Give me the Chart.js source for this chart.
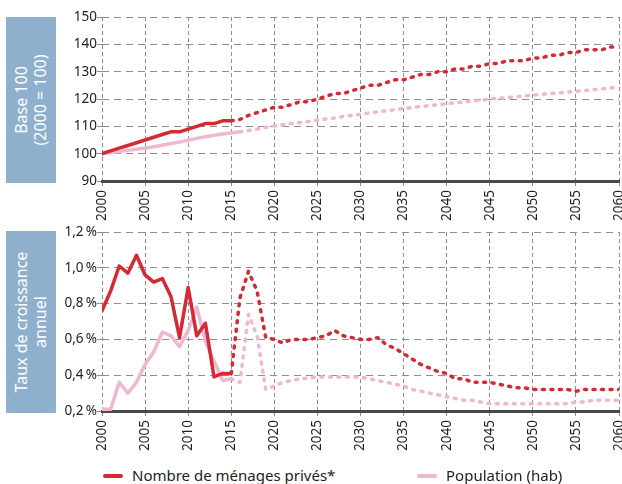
<!DOCTYPE html>
<html>
<head>
<meta charset="utf-8">
<script src="https://cdn.jsdelivr.net/npm/chart.js@4"></script>
<style>
  html, body { margin: 0; padding: 0; background: #fff; overflow: hidden; width: 622px; height: 484px; }
  body { position: relative; font-family: "Noto Sans", sans-serif; }
  .box { position: absolute; left: 6px; width: 50px; background: #8fb0cd; }
  .box span { position: absolute; left: 50%; top: 50%; transform: translate(-50%, -50%) rotate(-90deg);
    color: #fff; font-size: 16px; line-height: 19px; text-align: center; white-space: nowrap; }
  .wrap { position: absolute; left: 0; }
  .legend { position: absolute; top: 465px; font-size: 15px; line-height: 21px; color: #222; white-space: nowrap; }
  .legend i { position: absolute; top: 9px; width: 20px; height: 4px; border-radius: 2px; }
</style>
</head>
<body>
<div class="box" style="top:17px;height:166px"><span>Base 100<br>(2000 = 100)</span></div>
<div class="box" style="top:231px;height:182px"><span>Taux de croissance<br>annuel</span></div>
<div class="wrap" style="top:0;width:640px;height:225px"><canvas id="top"></canvas></div>
<div class="wrap" style="top:220px;width:640px;height:240px"><canvas id="bottom"></canvas></div>
<div class="legend" style="left:103px;padding-left:29px"><i style="left:0;background:#d42a35"></i>Nombre de ménages privés*</div>
<div class="legend" style="left:417px;padding-left:29px"><i style="left:0;background:#f0b6d2"></i>Population (hab)</div>
<script>
const years = [
  2000, 2001, 2002, 2003, 2004, 2005, 2006, 2007, 2008, 2009,
  2010, 2011, 2012, 2013, 2014, 2015, 2016, 2017, 2018, 2019,
  2020, 2021, 2022, 2023, 2024, 2025, 2026, 2027, 2028, 2029,
  2030, 2031, 2032, 2033, 2034, 2035, 2036, 2037, 2038, 2039,
  2040, 2041, 2042, 2043, 2044, 2045, 2046, 2047, 2048, 2049,
  2050, 2051, 2052, 2053, 2054, 2055, 2056, 2057, 2058, 2059, 2060
];

// Base 100 (2000 = 100)
const menagesIndex = [
  100, 101, 102, 103, 104, 105, 106, 107, 108, 108,
  109, 110, 111, 111, 112, 112, 112.5, 114, 115, 116,
  117, 117, 118, 119, 119, 120, 121, 122, 122, 123,
  124, 125, 125, 126, 127, 127, 128, 129, 129, 130,
  130, 131, 131, 132, 132, 133, 133, 134, 134, 134,
  135, 135, 136, 136, 137, 137, 138, 138, 138, 139, 139
];
const populationIndex = [
  100, 100.4, 100.8, 101.2, 101.6, 102, 102.5, 103.1, 103.7, 104.3,
  104.9, 105.6, 106.2, 106.7, 107.2, 107.6, 108, 108.5, 109, 109.6,
  110.2, 110.6, 111, 111.4, 111.8, 112.2, 112.7, 113.1, 113.6, 114,
  114.4, 114.9, 115.3, 115.7, 116.1, 116.5, 116.9, 117.2, 117.6, 117.9,
  118.3, 118.6, 118.9, 119.3, 119.6, 120, 120.3, 120.5, 120.8, 121.1,
  121.4, 121.7, 122, 122.2, 122.5, 122.8, 123.1, 123.4, 123.7, 124, 124.3
];

// Taux de croissance annuel (%)
const menagesTaux = [
  0.76, 0.87, 1.01, 0.97, 1.07, 0.96, 0.92, 0.94, 0.84, 0.61,
  0.89, 0.62, 0.69, 0.39, 0.41, 0.41, 0.83, 0.98, 0.87, 0.61,
  0.60, 0.58, 0.60, 0.60, 0.60, 0.61, 0.62, 0.65, 0.62, 0.61,
  0.60, 0.60, 0.61, 0.57, 0.55, 0.52, 0.49, 0.46, 0.44, 0.42,
  0.41, 0.38, 0.38, 0.36, 0.36, 0.36, 0.35, 0.34, 0.33, 0.33,
  0.32, 0.32, 0.32, 0.32, 0.32, 0.31, 0.32, 0.32, 0.32, 0.32, 0.32
];
const populationTaux = [
  0.21, 0.21, 0.36, 0.30, 0.36, 0.46, 0.53, 0.64, 0.62, 0.56,
  0.65, 0.78, 0.59, 0.48, 0.37, 0.38, 0.36, 0.74, 0.62, 0.32,
  0.34, 0.36, 0.37, 0.38, 0.385, 0.39, 0.39, 0.39, 0.39, 0.39,
  0.39, 0.38, 0.37, 0.36, 0.35, 0.34, 0.32, 0.31, 0.30, 0.29,
  0.28, 0.27, 0.26, 0.26, 0.25, 0.24, 0.24, 0.24, 0.24, 0.24,
  0.24, 0.24, 0.24, 0.24, 0.24, 0.25, 0.25, 0.26, 0.26, 0.26, 0.26
];

const RED = '#d42a35';
const PINK = '#f0b6d2';
const FONT = { family: '"Noto Sans", sans-serif', size: 13.5 };

function series(label, values, color, lastSolidYear) {
  return {
    label,
    data: years.map((y, i) => ({ x: y, y: values[i] })),
    borderColor: color,
    backgroundColor: color,
    borderWidth: 3.5,
    borderCapStyle: 'round',
    borderJoinStyle: 'round',
    pointRadius: 0,
    tension: 0,
    segment: {
      // projections are drawn dotted
      borderDash: ctx => ctx.p0.parsed.x >= lastSolidYear ? [2, 6.5] : undefined
    }
  };
}

function makeChart(id, datasets, yOpts, areaTop, xHeight) {
  new Chart(document.getElementById(id), {
    type: 'line',
    data: { datasets },
    options: {
      responsive: true,
      maintainAspectRatio: false,
      animation: false,
      layout: { padding: { top: areaTop, right: 21, left: 0, bottom: 0 } },
      plugins: { legend: { display: false }, tooltip: { enabled: false } },
      scales: {
        x: {
          type: 'linear',
          min: 2000, max: 2060,
          afterFit: s => { s.height = xHeight; },
          grid: { color: '#8e8e8e', lineWidth: 1, tickLength: 5 },
          border: { display: true, color: '#4a4a4a', width: 3, dash: [4, 3] },
          ticks: {
            stepSize: 5, autoSkip: false, maxRotation: 90, minRotation: 90,
            padding: 4, color: '#222', font: FONT,
            callback: v => String(v)
          }
        },
        y: Object.assign({
          afterFit: s => { s.width = 102; },
          grid: { color: '#8e8e8e', lineWidth: 1, tickLength: 5 },
          border: { display: false, dash: [7, 5] }
        }, yOpts)
      }
    }
  });
}

makeChart('top', [
  series('Nombre de ménages privés*', menagesIndex, RED, 2015),
  series('Population (hab)', populationIndex, PINK, 2016)
], {
  min: 90, max: 150,
  ticks: { stepSize: 10, padding: 0, color: '#222', font: FONT }
}, 17, 44);

makeChart('bottom', [
  series('Nombre de ménages privés*', menagesTaux, RED, 2015),
  series('Population (hab)', populationTaux, PINK, 2015)
], {
  min: 0.2, max: 1.2,
  ticks: {
    stepSize: 0.2, padding: 0, color: '#222', font: FONT,
    callback: v => v.toFixed(1).replace('.', ',') + '\u202f%'
  }
}, 12, 49);
</script>
</body>
</html>
